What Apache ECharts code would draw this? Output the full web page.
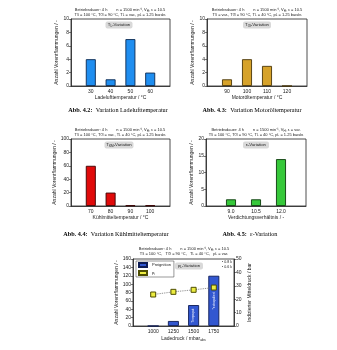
<!DOCTYPE html>
<html><head><meta charset="utf-8">
<script src="https://cdn.jsdelivr.net/npm/echarts@6/dist/echarts.min.js"></script>
<style>html,body{margin:0;padding:0;background:#fff}#c{width:337px;height:350px}</style>
</head><body><div id="c"></div>
<script>
// ---- data ----
const cats1 = [30, 40, 50, 60];        const ticks1 = ['30', '40', '50', '60'];      const vals1 = [4, 1, 7, 2];
const cats2 = [90, 100, 110, 120];     const ticks2 = ['90', '100', '110', '120'];   const vals2 = [1, 4, 3, 0];
const cats3 = [70, 80, 90, 100];       const ticks3 = ['70', '80', '90', '100'];     const vals3 = [60, 20, 1, 1];
const cats4 = [9.0, 10.5, 12.0];       const ticks4 = ['9.0', '10.5', '12.0'];       const vals4 = [2, 2, 14];
const cats5 = [1000, 1250, 1500, 1750];const ticks5 = ['1000', '1250', '1500', '1750'];const vals5 = [0, 12, 50, 120];
const pi5 = [23.5, 25.5, 27.0, 28.7];
const notes5 = ['', '', 'Tempspot', '*extrapoliert'];

const SANS = 'Liberation Sans, Arial, sans-serif';
const SERIF = 'Liberation Serif, DejaVu Serif, serif';
const chart = echarts.init(document.getElementById('c'), null, {renderer: 'canvas'});

const grids = [
  {left: 71, top: 19, width: 99, height: 67},
  {left: 207, top: 19, width: 100, height: 67},
  {left: 71, top: 139, width: 99, height: 67},
  {left: 206, top: 139, width: 100, height: 67},
  {left: 133, top: 259, width: 101, height: 67}
].map(g => Object.assign({show: true, borderColor: '#222', borderWidth: 0.8, backgroundColor: 'transparent'}, g));

function xAx(gi, cats, ticks, min, max, interval, name, nameRich) {
  return {
    type: 'value', gridIndex: gi, min: min, max: max, interval: interval,
    splitLine: {show: false},
    axisLine: {show: true, lineStyle: {color: '#222', width: 0.8}},
    axisTick: {show: false},
    axisLabel: {fontSize: 5, fontFamily: SANS, color: '#222', margin: 3,
      formatter: v => { const k = cats.findIndex(c => Math.abs(c - v) < 1e-6); return k >= 0 ? ticks[k] : ''; }},
    name: name, nameLocation: 'middle', nameGap: 9,
    nameTextStyle: {fontSize: 5, fontFamily: SANS, color: '#222', rich: nameRich || {}}
  };
}
function yAx(gi, max, interval, name, pos) {
  return {
    type: 'value', gridIndex: gi, min: 0, max: max, interval: interval, position: pos || 'left',
    splitLine: {show: false},
    axisLine: {show: true, lineStyle: {color: '#222', width: 0.8}},
    axisTick: {show: true, length: 2, lineStyle: {color: '#222', width: 0.6}},
    axisLabel: {fontSize: 5, fontFamily: SANS, color: '#222', margin: 2},
    name: name, nameLocation: 'middle', nameGap: pos === 'right' ? 13 : 12,
    nameTextStyle: {fontSize: 5, fontFamily: SANS, color: '#222'}
  };
}
const yName = 'Anzahl Vorentflammungen / -';
const xAxes = [
  xAx(0, cats1, ticks1, 20, 70, 10, 'Ladelufttemperatur / °C'),
  xAx(1, cats2, ticks2, 80, 130, 10, 'Motoröltemperatur / °C'),
  xAx(2, cats3, ticks3, 60, 110, 10, 'Kühlmitteltemperatur / °C'),
  xAx(3, cats4, ticks4, 7.5, 13.5, 1.5, 'Verdichtungsverhältnis / -'),
  xAx(4, cats5, ticks5, 750, 2000, 250, '{a|Ladedruck / mbar}{s|abs}', {a: {fontSize: 5, fontFamily: SANS}, s: {fontSize: 3.5, fontFamily: SANS, padding: [3, 0, 0, 0]}})
];
const yAxes = [
  yAx(0, 10, 2, yName), yAx(1, 10, 2, yName), yAx(2, 100, 20, yName),
  yAx(3, 20, 5, yName), yAx(4, 160, 20, yName), yAx(4, 50, 10, 'Indizierter Mitteldruck / bar', 'right')
];

function barSeries(name, gi, cats, vals, color, border, notes) {
  return {
    name: name, type: 'bar', xAxisIndex: gi, yAxisIndex: gi, barWidth: 10,
    itemStyle: {color: color, borderColor: border, borderWidth: 0.9},
    data: cats.map((c, i) => {
      const d = {value: [c, vals[i]]};
      if (notes && notes[i]) d.label = {show: true, position: 'inside', rotate: 90, formatter: notes[i], fontSize: 3.2, color: '#fff', fontFamily: SANS};
      return d;
    })
  };
}
const series = [
  barSeries('s1', 0, cats1, vals1, '#1f8ef0', '#0a2850'),
  barSeries('s2', 1, cats2, vals2, '#d6a22a', '#4a3608'),
  barSeries('s3', 2, cats3, vals3, '#e00a0a', '#3a0000'),
  barSeries('s4', 3, cats4, vals4, '#36c83a', '#0c3a0c'),
  Object.assign(barSeries('Preignition', 4, cats5, vals5, '#3257d0', '#0d1c55', notes5), {barWidth: 11}),
  {
    name: 'pi', type: 'line', xAxisIndex: 4, yAxisIndex: 5,
    data: cats5.map((c, i) => [c, pi5[i]]),
    symbol: 'rect', symbolSize: 5,
    lineStyle: {color: '#777', width: 0.9, type: 'dotted'},
    itemStyle: {color: '#ecec40', borderColor: '#4d4d00', borderWidth: 1}
  }
];

function header(cx, y, l1, l2) {
  const rich = {t: {fontSize: 4, fontFamily: SANS, color: '#222'}, s: {fontSize: 3, fontFamily: SANS, color: '#222', padding: [2, 0, 0, 0]}};
  return [
    {type: 'text', x: cx, y: y, style: {text: l1, fontSize: 4, fontFamily: SANS, fill: '#222', align: 'center', verticalAlign: 'middle', rich: rich}},
    {type: 'text', x: cx, y: y + 4.5, style: {text: l2, fontSize: 4, fontFamily: SANS, fill: '#222', align: 'center', verticalAlign: 'middle', rich: rich}}
  ];
}
function tag(cx, cy, text, w) {
  const rich = {t: {fontSize: 4.3, fontFamily: SANS, color: '#222'}, s: {fontSize: 3.2, fontFamily: SANS, color: '#222', padding: [2, 0, 0, 0]}};
  return [
    {type: 'rect', x: cx - w / 2, y: cy - 3.5, shape: {width: w, height: 7, r: 2}, style: {fill: '#d9d9d9', stroke: null}},
    {type: 'text', x: cx, y: cy, style: {text: text, fontSize: 4.3, fontFamily: SANS, fill: '#222', align: 'center', verticalAlign: 'middle', rich: rich}}
  ];
}
function caption(cx, cy, num, text) {
  return {type: 'text', x: cx, y: cy, style: {
    text: '{b|Abb. ' + num + ':} {n|' + text + '}', align: 'center', verticalAlign: 'middle',
    rich: {b: {fontSize: 6.2, fontFamily: SERIF, fontWeight: 'bold', color: '#111'}, n: {fontSize: 6.2, fontFamily: SERIF, color: '#111'}}}};
}
const hl1a = '{t|Betriebsdauer: 4 h        n = 1500 min⁻¹, V}{s|H}{t|, ε = 10.5}';
const graphic = [].concat(
  header(120, 10, hl1a, '{t|T}{s|S}{t| = 100 °C, T}{s|Öl}{t| = 90 °C, T}{s|L}{t| = var., p}{s|L}{t| = 1.25 bar}{s|abs}'),
  header(257, 10, hl1a, '{t|T}{s|S}{t| = var., T}{s|Öl}{t| = 90 °C, T}{s|L}{t| = 40 °C, p}{s|L}{t| = 1.25 bar}{s|abs}'),
  header(120, 130, hl1a, '{t|T}{s|S}{t| = 100 °C, T}{s|Öl}{t| = var., T}{s|L}{t| = 40 °C, p}{s|L}{t| = 1.25 bar}{s|abs}'),
  header(256, 130, '{t|Betriebsdauer: 4 h        n = 1500 min⁻¹, V}{s|H}{t|, ε = var.}', '{t|T}{s|S}{t| = 100 °C, T}{s|Öl}{t| = 90 °C, T}{s|L}{t| = 40 °C, p}{s|L}{t| = 1.25 bar}{s|abs}'),
  header(184, 249, hl1a, '{t|T}{s|S}{t| = 100 °C,   T}{s|Öl}{t| = 90 °C,   T}{s|L}{t| = 40 °C,   p}{s|L}{t| = var.}'),
  tag(119, 25, '{t|T}{s|L}{t|-Variation}', 27),
  tag(257, 25, '{t|T}{s|Öl}{t|-Variation}', 28),
  tag(119, 145, '{t|T}{s|KM}{t|-Variation}', 29),
  tag(256, 145, '{t|ε-Variation}', 26),
  tag(189, 266, '{t|p}{s|L}{t|-Variation}', 28),
  [
    {type: 'text', x: 232, y: 260, style: {text: '▪ 0.8 k\n▪ 0.6 k', fontSize: 3.6, lineHeight: 4.5, fontFamily: SANS, fill: '#222', align: 'right', verticalAlign: 'top'}},
    caption(118, 110, '4.2', 'Variation Ladelufttemperatur'),
    caption(252, 110, '4.3', 'Variation Motoröltemperatur'),
    caption(116, 234, '4.4', 'Variation Kühlmitteltemperatur'),
    caption(250, 234, '4.5', 'ε-Variation')
  ]
);

chart.setOption({
  animation: false,
  backgroundColor: '#fff',
  grid: grids,
  xAxis: xAxes,
  yAxis: yAxes,
  legend: {
    data: [{name: 'Preignition', icon: 'rect'}, {name: 'pi', icon: 'rect'}],
    orient: 'vertical', left: 136, top: 261, itemWidth: 8, itemHeight: 4, itemGap: 2, padding: [1, 3, 1, 2],
    borderColor: '#333', borderWidth: 0.5, backgroundColor: '#fff',
    textStyle: {fontSize: 4, fontFamily: SANS, color: '#222',
      rich: {a: {fontSize: 4, fontFamily: SANS, color: '#222'}, s: {fontSize: 3, fontFamily: SANS, color: '#222', padding: [2, 0, 0, 0]}}},
    formatter: n => n === 'pi' ? '{a|p}{s|i}' : '{a|' + n + '}'
  },
  series: series,
  graphic: graphic
});
</script>
</body></html>
